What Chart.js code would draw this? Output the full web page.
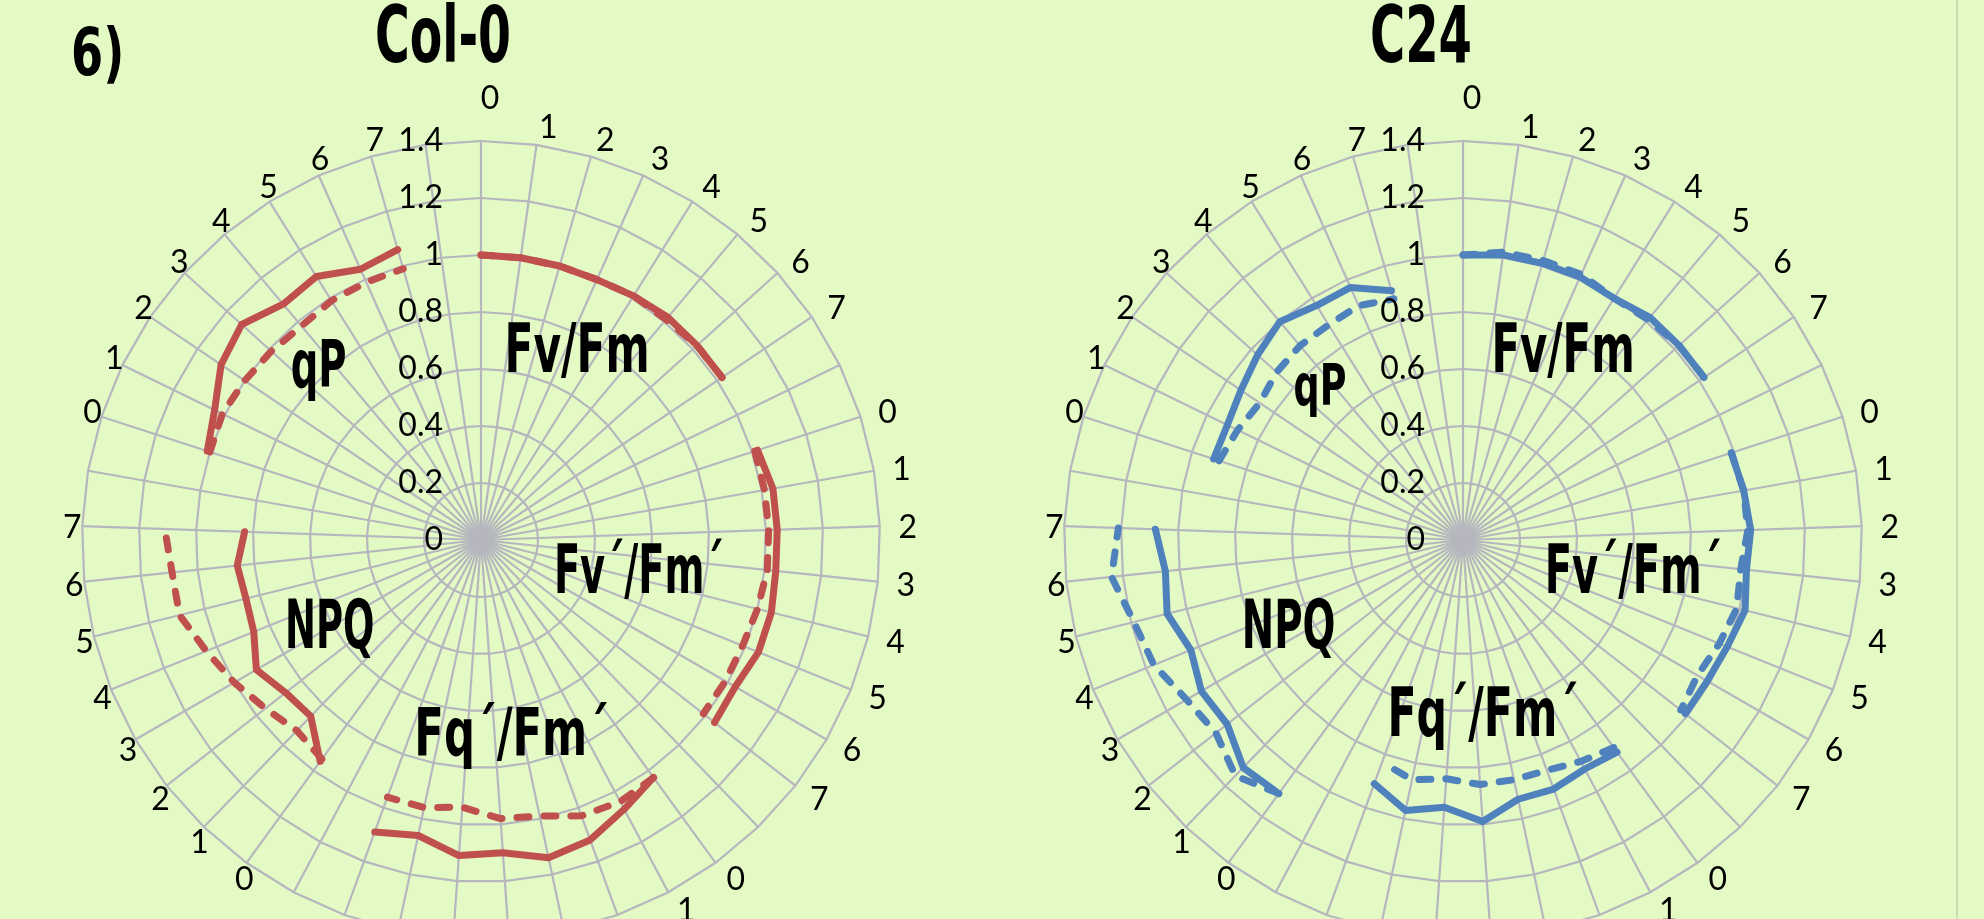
<!DOCTYPE html>
<html lang="en">
<head>
<meta charset="utf-8">
<title>Col-0 / C24 radar</title>
<script src="https://cdn.jsdelivr.net/npm/chart.js@4.4.1/dist/chart.umd.min.js"></script>
<style>
  html, body { margin: 0; padding: 0; overflow: hidden; background: #E3FAC4; }
  #page { position: relative; width: 1984px; height: 919px; overflow: hidden; background: #E3FAC4; }
  canvas { position: absolute; top: 0; }
  #chartCol0 { left: 0; }
  #chartC24 { left: 982px; }
  #edge { position: absolute; left: 1956px; top: 0; width: 2px; height: 919px; background: #CBDDB2; }
  .heading { position: absolute; white-space: nowrap; color: #000; transform-origin: 0 0; margin: 0; }
</style>
</head>
<body>
<div id="page">
  <canvas id="chartCol0" width="962" height="1080"></canvas>
  <canvas id="chartC24" width="962" height="1080"></canvas>
  <div id="edge"></div>
  <div class="heading" id="panelTag"></div>
  <div class="heading" id="titleCol0"></div>
  <div class="heading" id="titleC24"></div>
</div>
<script>
// spokes: 5 parameters x 8 time points (0-7), one empty spoke between parameters
const groupNames = ['Fv/Fm', 'Fv´/Fm´', 'Fq´/Fm´', 'NPQ', 'qP'];
const timeLabels = ['0', '1', '2', '3', '4', '5', '6', '7'];
const spokeLabels = groupNames.flatMap(() => [...timeLabels, '']);

const rTicks = [0, 0.2, 0.4, 0.6, 0.8, 1, 1.2, 1.4];
const tickLabels = ['0', '0.2', '0.4', '0.6', '0.8', '1', '1.2', '1.4'];

// Col-0, solid and dashed lines
const col0FvFm       = [1.00, 1.00, 1.00, 1.00, 1.01, 1.02, 1.02, 1.02];
const col0FvFmDash   = [1.00, 1.00, 1.00, 1.00, 1.01, 1.01, 1.02, 1.02];
const col0FvpFmp     = [1.02, 1.04, 1.04, 1.04, 1.05, 1.05, 1.03, 1.04];
const col0FvpFmpDash = [1.01, 1.01, 1.01, 1.01, 1.00, 0.99, 0.99, 0.99];
const col0FqpFmp     = [1.03, 1.07, 1.12, 1.14, 1.10, 1.11, 1.06, 1.09];
const col0FqpFmpDash = [1.03, 1.04, 1.03, 0.99, 0.98, 0.94, 0.96, 0.96];
const col0NPQ        = [0.96, 0.86, 0.87, 0.91, 0.86, 0.85, 0.86, 0.83];
const col0NPQDash    = [0.95, 0.93, 0.96, 1.00, 1.04, 1.09, 1.09, 1.11];
const col0qP         = [1.01, 1.04, 1.10, 1.13, 1.08, 1.09, 1.04, 1.06];
const col0qPDash     = [1.00, 1.01, 1.00, 0.99, 0.98, 0.99, 0.99, 0.99];

// C24, solid and dashed lines
const c24FvFm       = [1.00, 1.01, 1.01, 1.01, 1.00, 1.02, 1.02, 1.02];
const c24FvFmDash   = [1.00, 1.02, 1.02, 1.02, 1.00, 1.01, 1.02, 1.02];
const c24FvpFmp     = [0.99, 1.00, 1.01, 1.00, 1.02, 1.00, 0.99, 0.99];
const c24FvpFmpDash = [0.99, 1.00, 1.00, 0.98, 0.99, 0.97, 0.95, 0.97];
const c24FqpFmp     = [0.92, 0.91, 0.93, 0.93, 0.99, 0.94, 0.97, 0.91];
const c24FqpFmpDash = [0.90, 0.88, 0.86, 0.86, 0.86, 0.84, 0.86, 0.83];
const c24NPQ        = [1.10, 1.11, 1.05, 1.06, 1.03, 1.07, 1.05, 1.08];
const c24NPQDash    = [1.10, 1.15, 1.10, 1.12, 1.17, 1.19, 1.24, 1.21];
const c24qP         = [0.92, 0.92, 0.94, 0.97, 1.00, 0.97, 0.97, 0.91];
const c24qPDash     = [0.90, 0.88, 0.86, 0.88, 0.89, 0.89, 0.90, 0.88];


const RED = '#C0504D';
const BLUE = '#4F81BD';
const GRID = '#B6B6BE';
const nameFont = '"Liberation Sans Narrow", "DejaVu Sans Condensed", "Roboto", sans-serif';


// put a group's 8 values on its own spokes, null elsewhere
function spread(groupIndex, values) {
    const out = spokeLabels.map(() => null);
    const start = groupIndex * (timeLabels.length + 1);
    values.forEach((v, i) => { out[start + i] = v; });
    return out;
}

function makeDatasets(color, solid, dashed) {
    const common = {
        borderColor: color,
        backgroundColor: 'transparent',
        borderWidth: 7,
        borderCapStyle: 'round',
        borderJoinStyle: 'round',
        fill: false,
        pointRadius: 0,
        pointHitRadius: 0,
        spanGaps: false
    };
    const sets = [];
    solid.forEach((vals, g) => sets.push({ ...common, label: groupNames[g], data: spread(g, vals) }));
    dashed.forEach((vals, g) => sets.push({ ...common, label: groupNames[g] + ' dashed', data: spread(g, vals), borderDash: [12, 15] }));
    return sets;
}

// text squeezed to a given ink width and cap height (condensed bold look)
function drawFitted(ctx, text, left, baseline, capH, width) {
    ctx.textAlign = 'left';
    ctx.textBaseline = 'alphabetic';
    ctx.font = `bold 100px ${nameFont}`;
    const ref = ctx.measureText('H').actualBoundingBoxAscent;
    const size = capH * 100 / ref;
    ctx.font = `bold ${size}px ${nameFont}`;
    const m = ctx.measureText(text);
    const sx = width / (m.actualBoundingBoxLeft + m.actualBoundingBoxRight);
    ctx.save();
    ctx.translate(left, baseline);
    ctx.scale(sx, 1);
    ctx.fillText(text, m.actualBoundingBoxLeft, 0);
    ctx.restore();
}

const radarText = {
    id: 'radarText',
    afterDraw(chart, args, opts) {
        const s = chart.scales.r;
        const ctx = chart.ctx;
        ctx.save();
        ctx.fillStyle = '#000';
        ctx.font = '32px Lato';

        // value labels, right aligned left of the top spoke
        ctx.textAlign = 'right';
        ctx.textBaseline = 'middle';
        rTicks.forEach((v, i) => {
            ctx.fillText(tickLabels[i], s.xCenter - 38, s.yCenter - s.getDistanceFromCenterForValue(v));
        });

        // spoke labels
        ctx.textAlign = 'center';
        spokeLabels.forEach((t, i) => {
            if (!t) return;
            const p = s.getPointPosition(i, s.drawingArea + 19 + (i === 0 ? 25 : 0));
            ctx.fillText(t, p.x + 9, p.y + 2);
        });

        // parameter names inside the plot
        opts.names.forEach(n => {
            drawFitted(ctx, groupNames[n.group], s.xCenter + n.dx, s.yCenter + n.dy, n.cap, n.w);
        });
        ctx.restore();
    }
};

function makeChart(id, color, solid, dashed, names) {
    return new Chart(document.getElementById(id), {
        type: 'radar',
        data: {
            labels: spokeLabels,
            datasets: makeDatasets(color, solid, dashed)
        },
        options: {
            responsive: false,
            animation: false,
            layout: { padding: { left: 82, right: 82, top: 0, bottom: 0 } },
            plugins: {
                legend: { display: false },
                tooltip: { enabled: false },
                radarText: { names: names }
            },
            scales: {
                r: {
                    min: 0,
                    max: 1.4,
                    startAngle: 0,
                    afterBuildTicks: scale => { scale.ticks = rTicks.map(v => ({ value: v })); },
                    ticks: { display: false },
                    pointLabels: { display: false },
                    grid: { color: GRID, lineWidth: 2.2 },
                    angleLines: { color: GRID, lineWidth: 2.2 }
                }
            }
        },
        plugins: [radarText]
    });
}

makeChart('chartCol0', RED,
    [col0FvFm, col0FvpFmp, col0FqpFmp, col0NPQ, col0qP],
    [col0FvFmDash, col0FvpFmpDash, col0FqpFmpDash, col0NPQDash, col0qPDash],
    [
        { group: 0, dx: 27, dy: -168, cap: 49, w: 139 },
        { group: 4, dx: -189, dy: -153, cap: 48, w: 53 },
        { group: 1, dx: 76, dy: 53, cap: 50, w: 165 },
        { group: 3, dx: -193, dy: 108, cap: 50, w: 85 },
        { group: 2, dx: -63, dy: 215, cap: 48, w: 189 }
    ]);

makeChart('chartC24', BLUE,
    [c24FvFm, c24FvpFmp, c24FqpFmp, c24NPQ, c24qP],
    [c24FvFmDash, c24FvpFmpDash, c24FqpFmpDash, c24NPQDash, c24qPDash],
    [
        { group: 0, dx: 32, dy: -168, cap: 49, w: 137 },
        { group: 4, dx: -168, dy: -135, cap: 42, w: 50 },
        { group: 1, dx: 85, dy: 53, cap: 50, w: 172 },
        { group: 3, dx: -218, dy: 108, cap: 50, w: 89 },
        { group: 2, dx: -72, dy: 196, cap: 49, w: 186 }
    ]);


// headings as html text, squeezed the same way
function placeHeading(id, text, left, baseline, capH, width) {
    const el = document.getElementById(id);
    const mctx = document.createElement('canvas').getContext('2d');
    mctx.font = `bold 100px ${nameFont}`;
    const ref = mctx.measureText('H').actualBoundingBoxAscent;
    const size = capH * 100 / ref;
    mctx.font = `bold ${size}px ${nameFont}`;
    const m = mctx.measureText(text);
    const sx = width / (m.actualBoundingBoxLeft + m.actualBoundingBoxRight);
    const asc = m.fontBoundingBoxAscent;
    const desc = m.fontBoundingBoxDescent;
    el.textContent = text;
    el.style.font = `bold ${size}px ${nameFont}`;
    el.style.lineHeight = (asc + desc) + 'px';
    el.style.left = (left + m.actualBoundingBoxLeft * sx) + 'px';
    el.style.top = (baseline - asc) + 'px';
    el.style.transform = `scaleX(${sx})`;
}

placeHeading('panelTag', '6)', 73, 75, 48, 47);
placeHeading('titleCol0', 'Col-0', 377, 62, 57, 132);
placeHeading('titleC24', 'C24', 1372, 62, 57, 98);
</script>
</body>
</html>
